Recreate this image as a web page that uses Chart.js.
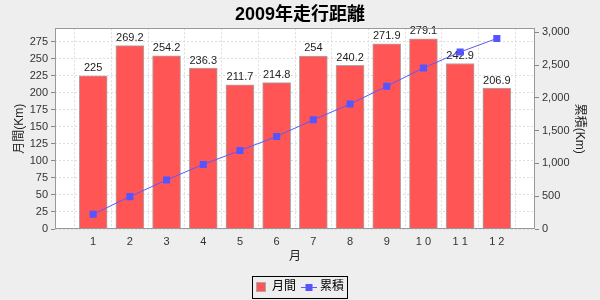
<!DOCTYPE html>
<html>
<head>
<meta charset="utf-8">
<script src="https://cdn.jsdelivr.net/npm/chart.js@4"></script>
<style>
  body { margin: 0; background: #eeeeee; }
  canvas { display: block; }
</style>
</head>
<body>
<canvas id="runChart" width="600" height="300"></canvas>
<script>
// data
const months = [1, 2, 3, 4, 5, 6, 7, 8, 9, 10, 11, 12];
const monthLabels = ["1", "2", "3", "4", "5", "6", "7", "8", "9", "1 0", "1 1", "1 2"];
const monthly = [225, 269.2, 254.2, 236.3, 211.7, 214.8, 254, 240.2, 271.9, 279.1, 242.9, 206.9];
const cumulative = [225, 494.2, 748.4, 984.7, 1196.4, 1411.2, 1665.2, 1905.4, 2177.3, 2456.4, 2699.3, 2906.2];
const leftTicks = [0, 25, 50, 75, 100, 125, 150, 175, 200, 225, 250, 275];
const rightTicks = [0, 500, 1000, 1500, 2000, 2500, 3000];

Chart.defaults.font.family = '"Liberation Sans", "Noto Sans CJK JP", sans-serif';
Chart.defaults.color = "#333";

// legend icons
function makeIcon(w, h, draw) {
  const c = document.createElement("canvas");
  c.width = w; c.height = h;
  draw(c.getContext("2d"));
  return c;
}
const barIcon = makeIcon(10, 10, g => {
  g.fillStyle = "#ff5555";
  g.fillRect(0, 0, 10, 10);
  g.strokeStyle = "#aaaaaa";
  g.strokeRect(0.5, 0.5, 9, 9);
});
const lineIcon = makeIcon(16, 12, g => {
  g.strokeStyle = "#5a5aff";
  g.beginPath(); g.moveTo(0, 6.5); g.lineTo(16, 6.5); g.stroke();
  g.fillStyle = "#5555ff";
  g.fillRect(4.5, 3, 7, 7);
});

// white plot area + frame, bar value labels, legend frame
const decor = {
  id: "decor",
  beforeDraw(chart) {
    const { ctx, chartArea: a } = chart;
    ctx.save();
    ctx.fillStyle = "#ffffff";
    ctx.fillRect(a.left, a.top, a.right - a.left, a.bottom - a.top);
    ctx.restore();
  },
  afterDatasetDraw(chart, args) {
    if (args.index !== 0) return;
    const ctx = chart.ctx;
    ctx.save();
    ctx.font = '11px "Liberation Sans", sans-serif';
    ctx.fillStyle = "#222";
    ctx.textAlign = "center";
    ctx.textBaseline = "alphabetic";
    args.meta.data.forEach((bar, i) => {
      ctx.fillText(String(monthly[i]), bar.x, bar.y - 4.5);
    });
    ctx.restore();
  },
  afterDraw(chart) {
    const { ctx, chartArea: a } = chart;
    ctx.save();
    ctx.strokeStyle = "#999";
    ctx.lineWidth = 1;
    ctx.strokeRect(Math.round(a.left) + 0.5, Math.round(a.top) + 0.5,
      Math.round(a.right - a.left) - 1, Math.round(a.bottom - a.top) - 1);
    const hb = chart.legend.legendHitBoxes;
    if (hb && hb.length) {
      const l = Math.min(...hb.map(h => h.left)) - 4;
      const r = Math.max(...hb.map(h => h.left + h.width)) + 3;
      const t = hb[0].top - 5;
      const b = hb[0].top + hb[0].height + 5;
      ctx.strokeStyle = "#000";
      ctx.strokeRect(Math.round(l) + 0.5, Math.round(t) + 0.5, Math.round(r - l), Math.round(b - t));
    }
    ctx.restore();
  }
};

new Chart(document.getElementById("runChart"), {
  data: {
    datasets: [
      {
        type: "bar",
        label: "月間",
        data: months.map((m, i) => ({ x: m, y: monthly[i] })),
        backgroundColor: "#ff5555",
        borderColor: "#aaaaaa",
        borderWidth: 1,
        barThickness: 28,
        yAxisID: "y",
        order: 1
      },
      {
        type: "line",
        label: "累積",
        data: months.map((m, i) => ({ x: m, y: cumulative[i] })),
        borderColor: "#5a5aff",
        borderWidth: 1,
        backgroundColor: "#5555ff",
        pointStyle: "rect",
        pointRadius: 5,
        pointBorderWidth: 0,
        yAxisID: "y2",
        order: 0
      }
    ]
  },
  options: {
    responsive: false,
    animation: false,
    devicePixelRatio: 1,
    layout: { padding: { left: 0, right: 0, top: 0, bottom: -3 } },
    scales: {
      x: {
        type: "linear",
        offset: false,
        min: -0.04,
        max: 13.04,
        afterBuildTicks: s => { s.ticks = months.map(v => ({ value: v })); },
        afterFit: s => { s.height = 44; },
        ticks: {
          padding: 6,
          font: { size: 11 },
          callback: v => monthLabels[v - 1]
        },
        grid: { color: "#dddddd", drawTicks: false },
        border: { display: false, dash: [2, 2] },
        title: { display: true, text: "月", font: { size: 12 }, color: "#222", padding: { top: 0, bottom: 9 } }
      },
      y: {
        position: "left",
        min: 0,
        max: 294.6,
        afterBuildTicks: s => { s.ticks = leftTicks.map(v => ({ value: v })); },
        afterFit: s => { s.width = 55; },
        ticks: { padding: 3, font: { size: 11 } },
        grid: { color: "#dddddd", tickLength: 4, tickColor: "#888", tickBorderDash: [] },
        border: { display: false, dash: [2, 2] },
        title: { display: true, text: "月間(Km)", font: { size: 12 }, color: "#222", padding: { top: 12, bottom: 0 } }
      },
      y2: {
        position: "right",
        min: 0,
        max: 3061,
        afterBuildTicks: s => { s.ticks = rightTicks.map(v => ({ value: v })); },
        afterFit: s => { s.width = 65; },
        ticks: { padding: 3, font: { size: 11 }, callback: v => v.toLocaleString("en-US") },
        grid: { drawOnChartArea: false, tickLength: 4, tickColor: "#888" },
        border: { display: false },
        title: { display: true, text: "累積(Km)", font: { size: 12 }, color: "#222", padding: { top: 13, bottom: 0 } }
      }
    },
    plugins: {
      title: {
        display: true,
        text: "2009年走行距離",
        color: "#000",
        font: { size: 18, weight: "bold" },
        padding: { top: 4, bottom: 2.7 }
      },
      legend: {
        position: "bottom",
        labels: {
          usePointStyle: true,
          pointStyleWidth: 10,
          padding: 8,
          color: "#000",
          font: { size: 12 },
          generateLabels: () => [
            { text: "月間", pointStyle: barIcon, datasetIndex: 0, fontColor: "#000", lineWidth: 0 },
            { text: "累積", pointStyle: lineIcon, datasetIndex: 1, fontColor: "#000", lineWidth: 0 }
          ]
        }
      },
      tooltip: { enabled: false }
    }
  },
  plugins: [decor]
});
</script>
</body>
</html>
